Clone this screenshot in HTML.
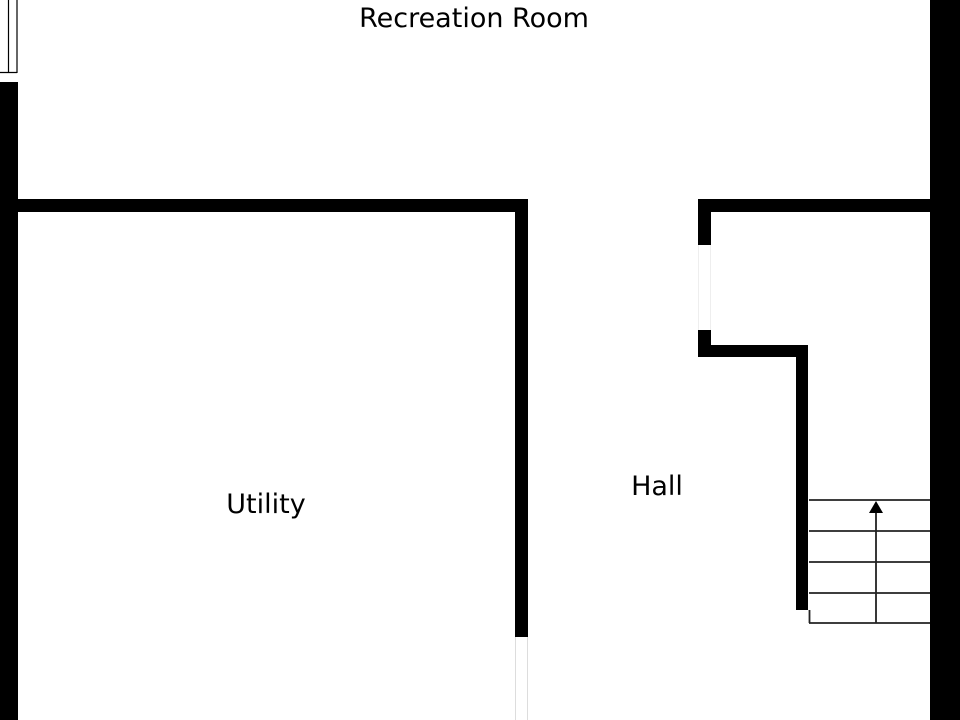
<!DOCTYPE html>
<html><head><style>
html,body{margin:0;padding:0;background:#fff;width:960px;height:720px;overflow:hidden}
</style></head><body>
<svg width="960" height="720" viewBox="0 0 960 720" xmlns="http://www.w3.org/2000/svg">
<rect width="960" height="720" fill="#fff"/>
<line x1="8.5" y1="0" x2="8.5" y2="73" stroke="#000" stroke-width="1.2"/>
<line x1="17" y1="0" x2="17" y2="73" stroke="#000" stroke-width="1.2"/>
<line x1="0" y1="72.5" x2="17" y2="72.5" stroke="#000" stroke-width="1.2"/>
<rect x="0" y="82" width="18" height="638" fill="#000"/>
<rect x="930" y="0" width="30" height="720" fill="#000"/>
<rect x="0" y="199" width="528" height="13" fill="#000"/>
<rect x="515" y="199" width="13" height="438" fill="#000"/>
<line x1="515.5" y1="637" x2="515.5" y2="720" stroke="#ddd" stroke-width="1"/>
<line x1="527.5" y1="637" x2="527.5" y2="720" stroke="#ddd" stroke-width="1"/>
<rect x="698" y="199" width="232" height="13" fill="#000"/>
<rect x="698" y="199" width="13" height="46" fill="#000"/>
<rect x="698" y="330" width="13" height="27" fill="#000"/>
<line x1="698.5" y1="245" x2="698.5" y2="330" stroke="#eee" stroke-width="1"/>
<line x1="710.5" y1="245" x2="710.5" y2="330" stroke="#eee" stroke-width="1"/>
<rect x="698" y="345" width="110" height="12" fill="#000"/>
<rect x="796" y="345" width="12" height="265" fill="#000"/>
<g stroke="#222" stroke-width="1.8" fill="none">
<line x1="809" y1="500" x2="930" y2="500"/>
<line x1="809" y1="531" x2="930" y2="531"/>
<line x1="809" y1="562" x2="930" y2="562"/>
<line x1="809" y1="593" x2="930" y2="593"/>
<line x1="809" y1="623" x2="930" y2="623"/>
<line x1="809.5" y1="610" x2="809.5" y2="623"/>
<line x1="876" y1="623" x2="876" y2="510"/>
</g>
<polygon points="876,501 869,513 883,513" fill="#000"/>
<g font-family="'DejaVu Sans','Liberation Sans',sans-serif" font-size="27" fill="#000">
<text x="474" y="27" text-anchor="middle">Recreation Room</text>
<text x="266" y="513" text-anchor="middle">Utility</text>
<text x="657" y="495" text-anchor="middle">Hall</text>
</g>
</svg>
</body></html>
